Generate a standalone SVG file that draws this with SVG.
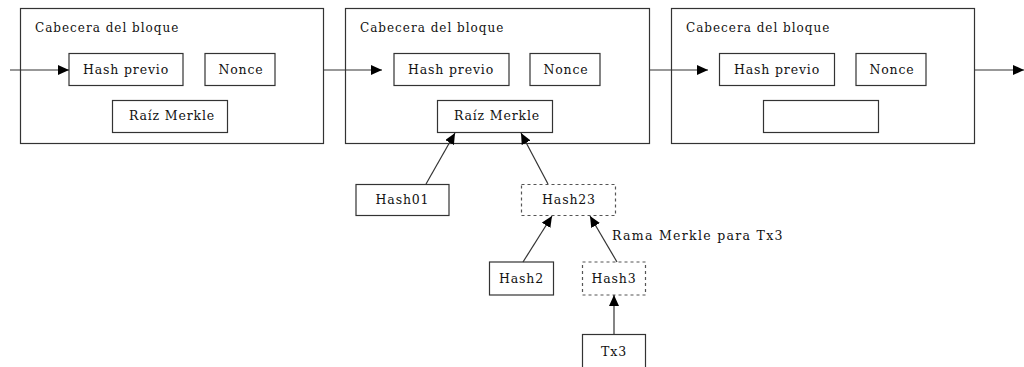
<svg xmlns="http://www.w3.org/2000/svg" width="1024" height="367" viewBox="0 0 1024 367">
  <style>
    .box { fill: #ffffff; stroke: #333333; stroke-width: 1.2; }
    .dash { fill: #ffffff; stroke: #555555; stroke-width: 1.2; stroke-dasharray: 3 3; }
    .lbl { font-family: "DejaVu Serif", "Liberation Serif", serif; font-size: 12.5px; fill: #111111; letter-spacing: 0.85px; }
    .title { font-size: 12px; letter-spacing: 1px; }
    .branch { letter-spacing: 1.3px; }
    .mid { text-anchor: middle; }
    .edge { fill: none; stroke: #333333; stroke-width: 1.2; marker-end: url(#arrow); }
  </style>
  <defs>
    <marker id="arrow" viewBox="0 0 11 10" refX="11" refY="5" markerWidth="11" markerHeight="10" markerUnits="userSpaceOnUse" orient="auto">
      <path d="M0,0 L11,5 L0,10 Z" fill="#000000"/>
    </marker>
  </defs>
  <rect width="1024" height="367" fill="#ffffff"/>

  <!-- block headers -->
  <g id="block1">
    <rect class="box" x="20.5" y="8.5" width="303" height="135"/>
    <text class="lbl title" x="35" y="32">Cabecera del bloque</text>
    <rect class="box" x="69" y="53.5" width="114" height="32"/>
    <text class="lbl mid" x="126" y="74">Hash previo</text>
    <rect class="box" x="205" y="53.5" width="70" height="32"/>
    <text class="lbl mid" x="241" y="74">Nonce</text>
    <rect class="box" x="112.5" y="100.5" width="115" height="32"/>
    <text class="lbl mid" x="172" y="120">Raíz Merkle</text>
  </g>

  <g id="block2">
    <rect class="box" x="345.5" y="8.5" width="304" height="135"/>
    <text class="lbl title" x="360" y="32">Cabecera del bloque</text>
    <rect class="box" x="394" y="53.5" width="115" height="32"/>
    <text class="lbl mid" x="451" y="74">Hash previo</text>
    <rect class="box" x="530" y="53.5" width="70" height="32"/>
    <text class="lbl mid" x="566" y="74">Nonce</text>
    <rect class="box" x="437.5" y="100.5" width="115" height="32"/>
    <text class="lbl mid" x="497" y="120">Raíz Merkle</text>
  </g>

  <g id="block3">
    <rect class="box" x="671.5" y="8.5" width="303" height="135"/>
    <text class="lbl title" x="686" y="32">Cabecera del bloque</text>
    <rect class="box" x="719.5" y="53.5" width="115" height="32"/>
    <text class="lbl mid" x="777" y="74">Hash previo</text>
    <rect class="box" x="856" y="53.5" width="70" height="32"/>
    <text class="lbl mid" x="892" y="74">Nonce</text>
    <rect class="box" x="763.5" y="100.5" width="115" height="32"/>
  </g>

  <!-- merkle branch nodes -->
  <g id="hash01">
    <rect class="box" x="356" y="184.5" width="93" height="31"/>
    <text class="lbl mid" x="402.5" y="204">Hash01</text>
  </g>
  <g id="hash23">
    <rect class="dash" x="521.5" y="184.5" width="94" height="31"/>
    <text class="lbl mid" x="569" y="204">Hash23</text>
  </g>
  <g id="hash2">
    <rect class="box" x="489.5" y="262" width="64" height="33"/>
    <text class="lbl mid" x="521.5" y="283">Hash2</text>
  </g>
  <g id="hash3">
    <rect class="dash" x="582.5" y="262" width="63" height="33"/>
    <text class="lbl mid" x="614" y="283">Hash3</text>
  </g>
  <g id="tx3">
    <rect class="box" x="582.5" y="334.5" width="63" height="40"/>
    <text class="lbl mid" x="614" y="356">Tx3</text>
  </g>
  <text id="branch-label" class="lbl branch" x="612" y="240">Rama Merkle para Tx3</text>

  <!-- connectors -->
  <g id="connectors">
    <line class="edge" x1="10" y1="70" x2="69" y2="70"/>
    <line class="edge" x1="324" y1="70" x2="382" y2="70"/>
    <line class="edge" x1="650" y1="70" x2="708" y2="70"/>
    <line class="edge" x1="975" y1="70" x2="1024" y2="70"/>
    <line class="edge" x1="426" y1="184" x2="455" y2="133"/>
    <line class="edge" x1="548" y1="184" x2="521" y2="133"/>
    <line class="edge" x1="523" y1="262" x2="552" y2="216"/>
    <line class="edge" x1="617" y1="262" x2="590" y2="216"/>
    <line class="edge" x1="614" y1="334" x2="614" y2="295"/>
  </g>
</svg>
